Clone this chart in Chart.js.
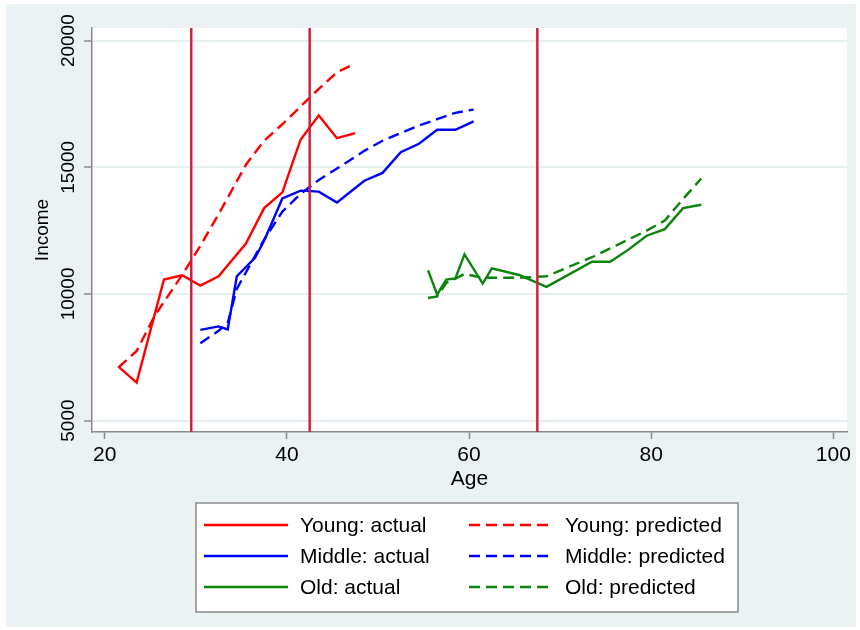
<!DOCTYPE html>
<html>
<head>
<meta charset="utf-8">
<script src="https://cdn.jsdelivr.net/npm/chart.js@4.4.0/dist/chart.umd.min.js"></script>
<style>
  html, body { margin: 0; padding: 0; background: #fff; }
  #wrap { width: 860px; height: 630px; }
</style>
</head>
<body>
<div id="wrap"><canvas id="incomeChart" width="860" height="630"></canvas></div>
<script>
/* ── data ── */
const youngAge    = [21.5, 23.5, 26.5, 28.5, 30.5, 32.5, 35.5, 37.5, 39.5, 41.5, 43.5, 45.5, 47.5];
const youngActual = [7130, 6500, 10570, 10740, 10330, 10700, 11990, 13390, 14010, 16090, 17050, 16150, 16350];
const youngPredAge = [21.5, 23.5, 25.5, 28.5, 30.5, 32.5, 35.5, 37.5, 39.5, 41.5, 43.5, 45.5, 47.5];
const youngPred    = [7100, 7750, 9150, 10750, 11900, 13150, 15100, 16050, 16700, 17400, 18100, 18750, 19100];

const middleAge    = [30.5, 32.5, 33.5, 34.5, 36.5, 37.5, 39.5, 41.5, 43.5, 45.5, 48.5, 50.5, 52.5, 54.5, 56.5, 58.5, 60.5];
const middleActual = [8580, 8720, 8600, 10700, 11430, 12100, 13770, 14080, 14040, 13610, 14470, 14780, 15600, 15930, 16480, 16480, 16810];
const middlePred   = [8050, 8550, 8850, 10200, 11500, 12150, 13250, 13950, 14500, 14950, 15650, 16050, 16350, 16650, 16900, 17150, 17280];

const oldAge    = [55.5, 56.5, 57.5, 58.5, 59.5, 61.5, 62.5, 65.5, 68.5, 73.5, 75.5, 77.5, 79.5, 81.5, 83.5, 85.5];
const oldActual = [10930, 9980, 10570, 10610, 11560, 10410, 11010, 10750, 10280, 11270, 11270, 11750, 12300, 12560, 13390, 13520];
const oldPred   = [9840, 9900, 10440, 10600, 10790, 10640, 10640, 10640, 10700, 11450, 11800, 12150, 12500, 12900, 13750, 14560];

const cutoffAges = [29.5, 42.5, 67.5];
const xTicks = [20, 40, 60, 80, 100];
const yTicks = [5000, 10000, 15000, 20000];

const FONT  = '"Liberation Sans", Arial, sans-serif';
const BG    = '#eaf2f3';
const GRID  = '#e6eff1';
const AXIS  = '#8a8a8a';
const RED   = '#ff0000';
const BLUE  = '#0000ff';
const GREEN = '#0a840a';
const XLINE = '#c81e3c';
const DASH  = [11, 6];

Chart.defaults.font.family = FONT;
Chart.defaults.color = '#000';

function pts(xs, ys) {
  return xs.map((x, i) => ({ x, y: ys[i] }));
}

function series(label, xs, ys, color, dashed) {
  return {
    label,
    data: pts(xs, ys),
    borderColor: color,
    backgroundColor: color,
    borderWidth: 2.4,
    borderDash: dashed ? DASH : [],
    pointRadius: 0,
    tension: 0,
    fill: false,
  };
}

/* ── figure background + white plot region ── */
const backdrop = {
  id: 'backdrop',
  beforeDraw(chart) {
    const { ctx, chartArea: a } = chart;
    ctx.save();
    ctx.fillStyle = BG;
    ctx.fillRect(6, 4, 850, 623);
    ctx.fillStyle = '#fff';
    ctx.fillRect(a.left, a.top, a.right - a.left, a.bottom - a.top);
    ctx.restore();
  }
};

/* ── vertical cutoff lines ── */
const cutoffs = {
  id: 'cutoffs',
  afterDatasetsDraw(chart) {
    const { ctx, chartArea: a, scales: { x } } = chart;
    ctx.save();
    ctx.strokeStyle = XLINE;
    ctx.lineWidth = 2.4;
    cutoffAges.forEach(v => {
      const px = x.getPixelForValue(v);
      ctx.beginPath();
      ctx.moveTo(px, a.top);
      ctx.lineTo(px, a.bottom);
      ctx.stroke();
    });
    ctx.restore();
  }
};

/* ── Stata-style boxed legend, two columns ── */
const LEG = { x: 196, y: 503, w: 542, h: 109, rows: [525, 556, 587], cols: [204, 469], sample: 84 };

const boxLegend = {
  id: 'boxLegend',
  afterDraw(chart) {
    const ctx = chart.ctx;
    ctx.save();
    ctx.fillStyle = '#fff';
    ctx.fillRect(LEG.x, LEG.y, LEG.w, LEG.h);
    ctx.strokeStyle = AXIS;
    ctx.lineWidth = 1.5;
    ctx.strokeRect(LEG.x, LEG.y, LEG.w, LEG.h);
    chart.data.datasets.forEach((ds, i) => {
      const cx = LEG.cols[i % 2];
      const cy = LEG.rows[Math.floor(i / 2)];
      ctx.strokeStyle = ds.borderColor;
      ctx.lineWidth = 2.5;
      ctx.setLineDash(ds.borderDash.length ? [11, 6] : []);
      ctx.beginPath();
      ctx.moveTo(cx, cy);
      ctx.lineTo(cx + LEG.sample, cy);
      ctx.stroke();
      ctx.setLineDash([]);
      ctx.fillStyle = '#000';
      ctx.font = '21px ' + FONT;
      ctx.textBaseline = 'middle';
      ctx.fillText(ds.label, cx + LEG.sample + 12, cy + 1);
    });
    ctx.restore();
  }
};

new Chart(document.getElementById('incomeChart'), {
  type: 'line',
  data: {
    datasets: [
      series('Young: actual', youngAge, youngActual, RED, false),
      series('Young: predicted', youngPredAge, youngPred, RED, true),
      series('Middle: actual', middleAge, middleActual, BLUE, false),
      series('Middle: predicted', middleAge, middlePred, BLUE, true),
      series('Old: actual', oldAge, oldActual, GREEN, false),
      series('Old: predicted', oldAge, oldPred, GREEN, true),
    ]
  },
  options: {
    responsive: false,
    animation: false,
    layout: { padding: { left: 6, top: 28, right: 13, bottom: 135 } },
    plugins: {
      legend: { display: false },
      tooltip: { enabled: false },
    },
    scales: {
      x: {
        type: 'linear',
        min: 18.6,
        max: 101.5,
        afterBuildTicks: s => { s.ticks = xTicks.map(v => ({ value: v })); },
        afterFit: s => { s.height = 63; },
        ticks: { font: { size: 21 }, color: '#000', padding: 4, autoSkip: false, maxRotation: 0, callback: v => String(v) },
        grid: { drawOnChartArea: false, drawTicks: true, tickLength: 7, tickColor: AXIS, tickWidth: 1.5 },
        border: { display: true, color: AXIS, width: 1.5 },
        title: { display: true, text: 'Age', font: { size: 21 }, color: '#000', padding: { top: 0, bottom: 3 } },
      },
      y: {
        type: 'linear',
        min: 4550,
        max: 20500,
        afterBuildTicks: s => { s.ticks = yTicks.map(v => ({ value: v })); },
        afterFit: s => { s.width = 86; },
        ticks: { font: { size: 19 }, color: '#000', minRotation: 90, maxRotation: 90, crossAlign: 'center', padding: -11, autoSkip: false, callback: v => String(v) },
        grid: { color: GRID, lineWidth: 2, tickColor: AXIS, tickLength: 8, tickWidth: 1.5 },
        border: { display: true, color: AXIS, width: 1.5 },
        title: { display: true, text: 'Income', font: { size: 19 }, color: '#000', padding: { top: 25, bottom: 0 } },
      }
    }
  },
  plugins: [backdrop, cutoffs, boxLegend]
});
</script>
</body>
</html>
